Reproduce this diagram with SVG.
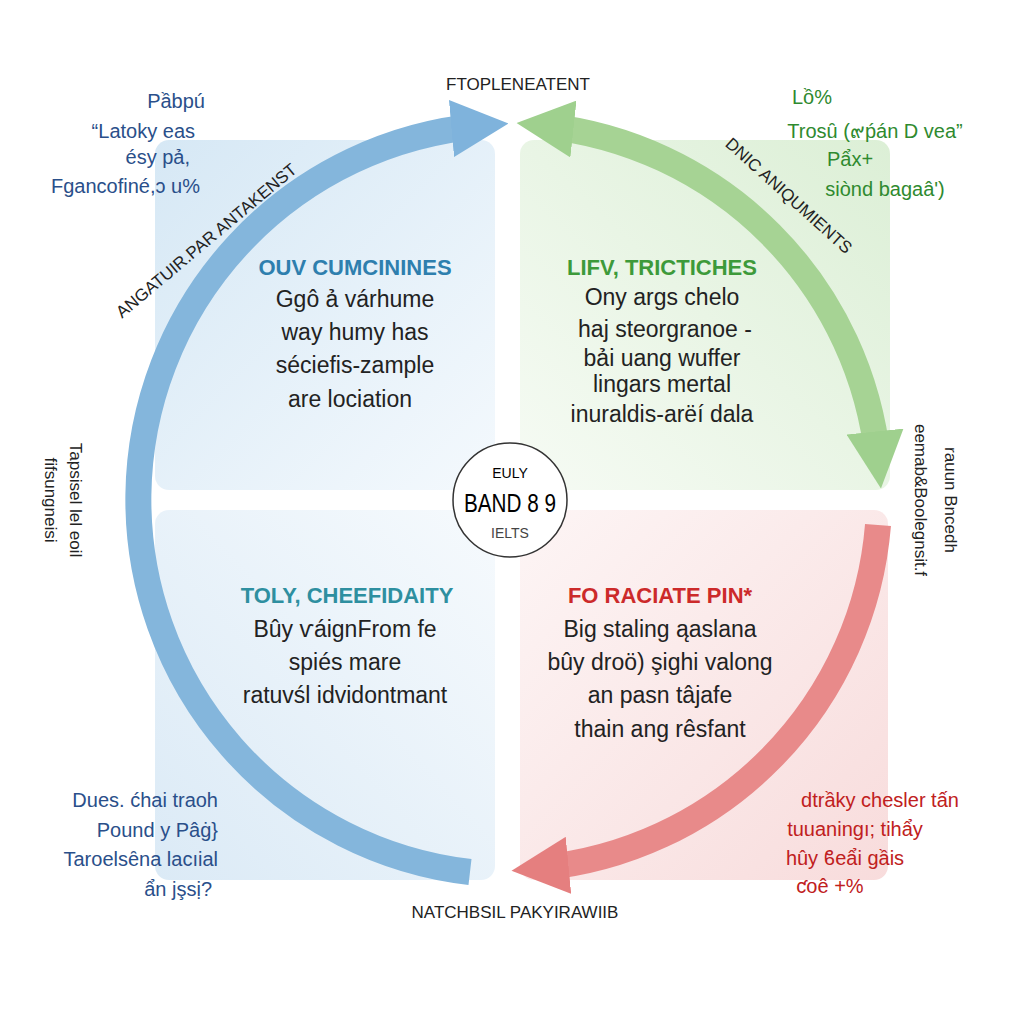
<svg xmlns="http://www.w3.org/2000/svg" width="1024" height="1024" viewBox="0 0 1024 1024">
<defs>
<linearGradient id="gb" x1="0" y1="0" x2="1" y2="1"><stop offset="0" stop-color="#d6e8f5"/><stop offset="1" stop-color="#f4f9fd"/></linearGradient>
<linearGradient id="gg" x1="1" y1="0" x2="0" y2="1"><stop offset="0" stop-color="#dcefd6"/><stop offset="1" stop-color="#f6fbf4"/></linearGradient>
<linearGradient id="gb2" x1="0" y1="1" x2="1" y2="0"><stop offset="0" stop-color="#dbeaf6"/><stop offset="1" stop-color="#f6fafd"/></linearGradient>
<linearGradient id="gr" x1="1" y1="1" x2="0" y2="0"><stop offset="0" stop-color="#f8dcdc"/><stop offset="1" stop-color="#fdf5f5"/></linearGradient>
<marker id="ab" viewBox="0 0 10 10" refX="5" refY="5" markerWidth="2.2" markerHeight="2.2" orient="auto"><path d="M0,0 L10,5 L0,10 Z" fill="#7fb3dc"/></marker>
<marker id="ag" viewBox="0 0 10 10" refX="5" refY="5" markerWidth="2.2" markerHeight="2.2" orient="auto-start-reverse"><path d="M0,0 L10,5 L0,10 Z" fill="#9fd08e"/></marker>
<marker id="ar" viewBox="0 0 10 10" refX="5" refY="5" markerWidth="2.2" markerHeight="2.2" orient="auto"><path d="M0,0 L10,5 L0,10 Z" fill="#e57f7f"/></marker>
</defs>
<style>
text{font-family:"Liberation Sans",Arial,sans-serif;text-anchor:middle}
.h{font-size:22px;font-weight:bold}
.b{font-size:23px;fill:#222}
.s{font-size:20px}
.a{font-size:17px;fill:#222}
.r{text-anchor:end}
</style>
<rect width="1024" height="1024" fill="#fff"/>
<g id="panels">
<rect x="155" y="140" width="340" height="350" rx="14" fill="url(#gb)"/>
<rect x="520" y="140" width="370" height="350" rx="14" fill="url(#gg)"/>
<rect x="155" y="510" width="340" height="370" rx="14" fill="url(#gb2)"/>
<rect x="520" y="510" width="368" height="370" rx="14" fill="url(#gr)"/>
</g>
<g id="connectors" fill="none" stroke-width="26" stroke-linecap="butt">
<path d="M 470 872 A 375 375 0 0 1 480 126" stroke="#84b6dc" marker-end="url(#ab)"/>
<path d="M 545 126 A 375 375 0 0 1 878 460" stroke="#a6d394" marker-start="url(#ag)" marker-end="url(#ag)"/>
<path d="M 878 525 A 375 375 0 0 1 540 868" stroke="#e88a8a" marker-end="url(#ar)"/>
</g>
<g id="center">
<circle cx="510" cy="500" r="57" fill="#fff" stroke="#333" stroke-width="1.5"/>
<text x="510" y="478" font-size="14">EULY</text>
<text x="510" y="512" font-size="26" textLength="92" lengthAdjust="spacingAndGlyphs">BAND 8 9</text>
<text x="510" y="538" font-size="14" fill="#444">IELTS</text>
</g>
<g id="q1">
<text class="h" x="355" y="275" fill="#2e7fae">OUV CUMCININES</text>
<text class="b" x="355" y="307">Ggô ả várhume</text>
<text class="b" x="355" y="340">way humy has</text>
<text class="b" x="355" y="373">séciefis-zample</text>
<text class="b" x="350" y="407">are lociation</text>
</g>
<g id="q2">
<text class="h" x="662" y="275" fill="#3d9a3a">LIFV, TRICTICHES</text>
<text class="b" x="662" y="305">Ony args chelo</text>
<text class="b" x="665" y="337">haj steorgranoe -</text>
<text class="b" x="662" y="366">bải uang wuffer</text>
<text class="b" x="662" y="392">lingars mertal</text>
<text class="b" x="662" y="422">inuraldis-arëí dala</text>
</g>
<g id="q3">
<text class="h" x="347" y="603" fill="#2e8fa0">TOLY, CHEEFIDAITY</text>
<text class="b" x="345" y="637">Bûy ѵáignFrom fe</text>
<text class="b" x="345" y="670">spiés mare</text>
<text class="b" x="345" y="703">ratuvśl idvidontmant</text>
</g>
<g id="q4">
<text class="h" x="660" y="603" fill="#cc2a2a">FO RACIATE PIN*</text>
<text class="b" x="660" y="637">Big staling ąaslana</text>
<text class="b" x="660" y="670">bûy droö) şighi valong</text>
<text class="b" x="660" y="703">an pasn tâjafe</text>
<text class="b" x="660" y="737">thain ang rêsfant</text>
</g>
<g id="labels">
<text class="a" x="518" y="90">FTOPLENEATENT</text>
<text class="a" x="515" y="918">NATCHBSIL PAKYIRAWIIB</text>
<text class="a" x="0" y="0" transform="translate(210,245) rotate(-40)">ANGATUIR.PAR ANTAKENST</text>
<text class="a" x="0" y="0" transform="translate(785,200) rotate(42)">DNIC ANIQUMIENTS</text>
<text class="a" x="0" y="0" transform="translate(70,500) rotate(90)">Tapsisel lel eoil</text>
<text class="a" x="0" y="0" transform="translate(45,500) rotate(90)">fifsungneisi</text>
<text class="a" x="0" y="0" transform="translate(915,500) rotate(90)">eemab&amp;Boolegnsit.f</text>
<text class="a" x="0" y="0" transform="translate(945,500) rotate(90)">rauun Bncedh</text>
</g>
<g id="corners">
<text class="s r" x="205" y="108" fill="#2a4f8a">Pầbpú</text>
<text class="s r" x="195" y="138" fill="#2a4f8a">“Latoky eas</text>
<text class="s r" x="190" y="164" fill="#2a4f8a">ésy pả,</text>
<text class="s r" x="200" y="193" fill="#2a4f8a">Fgancofiné,ↄ u%</text>
<text class="s" x="812" y="104" fill="#2f8a2f">Lồ%</text>
<text class="s" x="875" y="138" fill="#2f8a2f">Trosȗ (๙ṕán D vea”</text>
<text class="s" x="850" y="166" fill="#2f8a2f">Pẩx+</text>
<text class="s" x="885" y="196" fill="#2f8a2f">siònd bagaâ')</text>
<text class="s r" x="218" y="807" fill="#2a4f8a">Dues. ćhai traoh</text>
<text class="s r" x="218" y="837" fill="#2a4f8a">Pound y Pâġ}</text>
<text class="s r" x="218" y="866" fill="#2a4f8a">Taroelsȇna lacıial</text>
<text class="s r" x="212" y="896" fill="#2a4f8a">ẩn jşsị?</text>
<text class="s" x="880" y="807" fill="#c02020">dtrầky chesler tấn</text>
<text class="s" x="855" y="836" fill="#c02020">tuuaningı; tihẩy</text>
<text class="s" x="845" y="865" fill="#c02020">hûy ϐeẩi gầis</text>
<text class="s" x="830" y="893" fill="#c02020">ƈoê +%</text>
</g>
</svg>
